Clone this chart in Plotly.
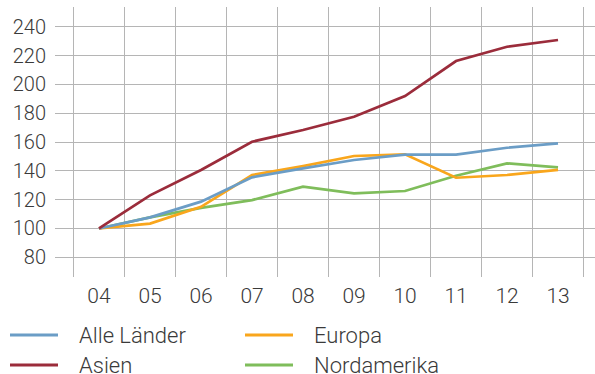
import plotly.graph_objects as go

# Index 2004 = 100
years = ["04", "05", "06", "07", "08", "09", "10", "11", "12", "13"]
alle_laender = [100, 107.7, 118.6, 135.5, 141.7, 147.5, 151.2, 151.2, 156, 159]
asien = [100, 123, 140.6, 160.2, 168.3, 177.5, 191.9, 216.2, 226.1, 230.8]
europa = [100, 103.4, 115, 137.1, 143.3, 150.3, 151.4, 135.2, 137.1, 140.6]
nordamerika = [100, 107.7, 114.3, 119.7, 129, 124.4, 126, 136.6, 145.2, 142.4]

series = [
    ("Alle Länder", alle_laender, "#6b9dc6"),
    ("Europa", europa, "#f9a61c"),
    ("Asien", asien, "#9b2c3b"),
    ("Nordamerika", nordamerika, "#7fbd5b"),
]

FONT = "Roboto"
TEXT = "#3a3a3a"
GRID = "#b5b5b5"

x = list(range(len(years)))
fig = go.Figure()
# draw order: green, orange, blue, red on top
for name, vals, col in [series[3], series[1], series[0], series[2]]:
    fig.add_trace(go.Scatter(x=x, y=vals, mode="lines", name=name,
                             line=dict(color=col, width=2.7), showlegend=False))

fig.update_layout(
    width=595, height=374,
    margin=dict(l=55, r=0, t=7, b=97),
    paper_bgcolor="white", plot_bgcolor="white",
    font=dict(family=FONT, size=20, color=TEXT, weight=300),
    xaxis=dict(
        range=[-0.863, 9.725], tickvals=x, ticktext=years, showgrid=False,
        zeroline=False, showline=False, ticks="", ticklabelstandoff=4,
        tickfont=dict(size=21),
        minor=dict(tick0=-0.5, dtick=1, showgrid=True, gridcolor=GRID, gridwidth=1.3),
    ),
    yaxis=dict(
        range=[66.3, 253.7], tickvals=list(range(80, 241, 20)), showgrid=True,
        gridcolor=GRID, gridwidth=1.3, zeroline=False, showline=False, ticks="",
        ticklabelstandoff=8,
    ),
)

# Legend, two columns
legend_rows = [(0, 0, series[0]), (1, 0, series[1]), (0, 1, series[2]), (1, 1, series[3])]
col_x = [10, 245]
row_y = [335, 365]


def px_x(p):
    return (p - 55) / 540


def px_y(p):
    return (374 - p - 97) / 270


for c, r, (name, vals, col) in legend_rows:
    x0 = col_x[c]
    yy = px_y(row_y[r])
    fig.add_shape(type="line", xref="paper", yref="paper",
                  x0=px_x(x0), x1=px_x(x0 + 48), y0=yy, y1=yy,
                  line=dict(color=col, width=3))
    fig.add_annotation(xref="paper", yref="paper", x=px_x(x0 + 67), y=yy,
                       text=name, showarrow=False, xanchor="left", yanchor="middle",
                       font=dict(family=FONT, size=22, color=TEXT, weight=300))

fig.write_html("out.html")
